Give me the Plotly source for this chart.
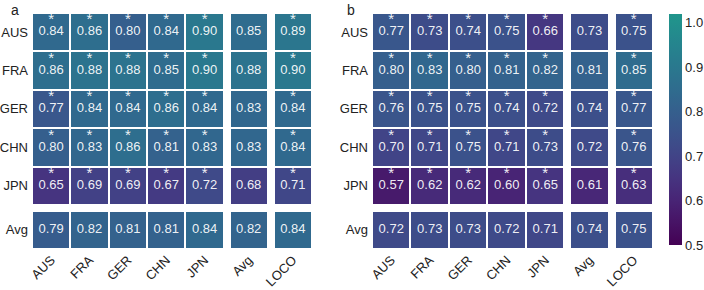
import plotly.graph_objects as go

# ---------------- data ----------------
row_labels = ["AUS", "FRA", "GER", "CHN", "JPN"]
col_labels = ["AUS", "FRA", "GER", "CHN", "JPN"]
avg_label = "Avg"
loco_label = "LOCO"

# panel a
a_main = [
    [0.84, 0.86, 0.80, 0.84, 0.90],
    [0.86, 0.88, 0.88, 0.85, 0.90],
    [0.77, 0.84, 0.84, 0.86, 0.84],
    [0.80, 0.83, 0.86, 0.81, 0.83],
    [0.65, 0.69, 0.69, 0.67, 0.72],
]
a_avg_col = [0.85, 0.88, 0.83, 0.83, 0.68]
a_loco = [0.89, 0.90, 0.84, 0.84, 0.71]
a_avg_row = [0.79, 0.82, 0.81, 0.81, 0.84]
a_avg_avg = 0.82
a_avg_loco = 0.84

# panel b
b_main = [
    [0.77, 0.73, 0.74, 0.75, 0.66],
    [0.80, 0.83, 0.80, 0.81, 0.82],
    [0.76, 0.75, 0.75, 0.74, 0.72],
    [0.70, 0.71, 0.75, 0.71, 0.73],
    [0.57, 0.62, 0.62, 0.60, 0.65],
]
b_avg_col = [0.73, 0.81, 0.74, 0.72, 0.61]
b_loco = [0.75, 0.85, 0.77, 0.76, 0.63]
b_avg_row = [0.72, 0.73, 0.73, 0.72, 0.71]
b_avg_avg = 0.74
b_avg_loco = 0.75

# significance (star) flags: main block and LOCO column are significant
a_sig_main = [[True] * 5 for _ in range(5)]
a_sig_loco = [True] * 5
b_sig_main = [[True] * 5 for _ in range(5)]
b_sig_loco = [True] * 5

cbar_ticks = [0.5, 0.6, 0.7, 0.8, 0.9, 1.0]

# ---------------- layout helpers ----------------
W, H = 704, 290
g = 0.15  # block gap in cell units
x_edges = [0, 1, 2, 3, 4, 5, 5 + g, 6 + g, 6 + 2 * g, 7 + 2 * g]
y_edges = [0, 1, 2, 3, 4, 5, 5 + g, 6 + g]
x_centers = [0.5, 1.5, 2.5, 3.5, 4.5, 5.5 + g, 6.5 + 2 * g]
y_centers = [0.5, 1.5, 2.5, 3.5, 4.5, 5.5 + g]
x_ticktext = col_labels + [avg_label, loco_label]
y_ticktext = row_labels + [avg_label]

viridis_half = ["#440154", "#471365", "#482475", "#463480", "#414487", "#3b528b",
                "#355f8d", "#2f6c8e", "#2a788e", "#25848e", "#21918c"]
zmin, zmax = 0.5, 1.02
colorscale = []
for i, c in enumerate(viridis_half):
    v = 0.5 + i * 0.05
    colorscale.append([(v - zmin) / (zmax - zmin), c])
colorscale.append([1.0, "#20958b"])


def build_z(main, avg_col, loco, avg_row, avg_avg, avg_loco):
    z = []
    for r in range(5):
        z.append(list(main[r]) + [None, avg_col[r], None, loco[r]])
    z.append([None] * 9)
    z.append(list(avg_row) + [None, avg_avg, None, avg_loco])
    return z


def build_text(main, avg_col, loco, avg_row, avg_avg, avg_loco, sig_main, sig_loco):
    xs, ys, ts, sx, sy = [], [], [], [], []
    for r in range(5):
        vals = list(main[r]) + [avg_col[r], loco[r]]
        sig = list(sig_main[r]) + [False, sig_loco[r]]
        for c, v in enumerate(vals):
            xs.append(x_centers[c]); ys.append(y_centers[r]); ts.append(f"{v:.2f}")
            if sig[c]:
                sx.append(x_centers[c]); sy.append(y_centers[r] - 0.30)
    vals = list(avg_row) + [avg_avg, avg_loco]
    for c, v in enumerate(vals):
        xs.append(x_centers[c]); ys.append(y_centers[5]); ts.append(f"{v:.2f}")
    return xs, ys, ts, sx, sy


FONT = "Liberation Sans, Arial, Helvetica, sans-serif"
fig = go.Figure()

panels = [
    (a_main, a_avg_col, a_loco, a_avg_row, a_avg_avg, a_avg_loco, a_sig_main, a_sig_loco, "x", "y"),
    (b_main, b_avg_col, b_loco, b_avg_row, b_avg_avg, b_avg_loco, b_sig_main, b_sig_loco, "x2", "y2"),
]
for k, (m, ac, lo, ar, aa, al, sm, sl, xa, ya) in enumerate(panels):
    z = build_z(m, ac, lo, ar, aa, al)
    hm = dict(
        z=z, x=x_edges, y=y_edges, colorscale=colorscale, zmin=zmin, zmax=zmax,
        xgap=2, ygap=2, hoverinfo="skip", xaxis=xa, yaxis=ya,
        showscale=(k == 1),
    )
    if k == 1:
        hm["colorbar"] = dict(
            x=669 / W, xanchor="left", y=1 - 14 / H, yanchor="top",
            thickness=13, thicknessmode="pixels", len=231, lenmode="pixels",
            xpad=0, ypad=0, outlinewidth=0, ticks="",
            tickvals=cbar_ticks, ticktext=[f"{t:.1f}" for t in cbar_ticks],
            tickfont=dict(family=FONT, size=13, color="#222"),
        )
    fig.add_trace(go.Heatmap(**hm))
    xs, ys, ts, sx, sy = build_text(m, ac, lo, ar, aa, al, sm, sl)
    fig.add_trace(go.Scatter(
        x=xs, y=ys, text=ts, mode="text", xaxis=xa, yaxis=ya, hoverinfo="skip",
        textfont=dict(family=FONT, size=13, color="rgba(255,255,255,0.93)"),
        showlegend=False,
    ))
    fig.add_trace(go.Scatter(
        x=sx, y=sy, text=["*"] * len(sx), mode="text", xaxis=xa, yaxis=ya, hoverinfo="skip",
        textfont=dict(family=FONT, size=15, color="rgba(255,255,255,0.93)"),
        showlegend=False,
    ))

axis_common_x = dict(
    range=[0, 7 + 2 * g], showgrid=False, zeroline=False, showline=False,
    tickvals=x_centers, ticktext=x_ticktext, tickangle=-45, ticks="",
    tickfont=dict(family=FONT, size=13, color="#222"), fixedrange=True,
    automargin=False,
)
axis_common_y = dict(
    range=[6 + g, 0], showgrid=False, zeroline=False, showline=False,
    tickvals=y_centers, ticktext=y_ticktext, ticks="",
    tickfont=dict(family=FONT, size=13, color="#222"), fixedrange=True,
    ticklabelstandoff=3, automargin=False,
)
ydom = [1 - 249 / H, 1 - 13 / H]
fig.update_layout(
    width=W, height=H, margin=dict(l=0, r=0, t=0, b=0, autoexpand=False),
    paper_bgcolor="white", plot_bgcolor="white", showlegend=False,
    xaxis=dict(domain=[32 / W, 312 / W], anchor="y", **axis_common_x),
    yaxis=dict(domain=ydom, anchor="x", **axis_common_y),
    xaxis2=dict(domain=[372 / W, 653 / W], anchor="y2", **axis_common_x),
    yaxis2=dict(domain=ydom, anchor="x2", **axis_common_y),
    annotations=[
        dict(text="a", x=15 / W, y=1, xref="paper", yref="paper",
             showarrow=False, xanchor="center", yanchor="top",
             font=dict(family=FONT, size=14, color="#222")),
        dict(text="b", x=351 / W, y=1, xref="paper", yref="paper",
             showarrow=False, xanchor="center", yanchor="top",
             font=dict(family=FONT, size=14, color="#222")),
    ],
)
fig.write_html(
    "out.html",
    config={"displayModeBar": False},
    post_script="document.body.style.margin='0px';document.body.style.overflow='hidden';",
)
